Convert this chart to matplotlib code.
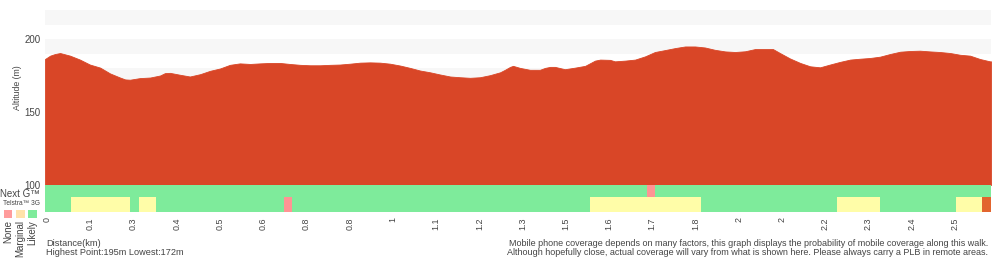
import numpy as np
import matplotlib
matplotlib.use("Agg")
import matplotlib.pyplot as plt
from matplotlib.patches import Rectangle

plt.rcParams['font.family'] = ['Liberation Sans', 'DejaVu Sans']

# ---------------- data ----------------
dist_km = [0.000, 0.014, 0.027, 0.041, 0.068, 0.095, 0.122, 0.150, 0.177, 0.204,
           0.218, 0.231, 0.258, 0.286, 0.313, 0.326, 0.340, 0.367, 0.394, 0.422,
           0.449, 0.476, 0.503, 0.530, 0.558, 0.585, 0.612, 0.639, 0.666, 0.694,
           0.721, 0.748, 0.775, 0.802, 0.830, 0.857, 0.884, 0.911, 0.938, 0.966,
           0.993, 1.020, 1.047, 1.074, 1.102, 1.129, 1.156, 1.183, 1.210, 1.238,
           1.251, 1.265, 1.273, 1.292, 1.319, 1.346, 1.360, 1.374, 1.387, 1.414,
           1.442, 1.469, 1.496, 1.510, 1.537, 1.550, 1.578, 1.605, 1.632, 1.659,
           1.686, 1.714, 1.741, 1.768, 1.795, 1.822, 1.850, 1.877, 1.904, 1.931,
           1.958, 1.980, 1.999, 2.026, 2.054, 2.081, 2.108, 2.135, 2.162, 2.190,
           2.217, 2.244, 2.271, 2.298, 2.326, 2.353, 2.380, 2.407, 2.434, 2.462,
           2.489, 2.516, 2.543, 2.570, 2.573]
altitude_m = [186.4, 188.7, 189.8, 190.5, 188.7, 186.0, 182.6, 180.5, 176.5, 173.7,
              172.4, 172.2, 173.3, 173.7, 175.1, 176.7, 176.9, 175.6, 174.4, 176.0,
              178.3, 179.9, 182.4, 183.4, 183.0, 183.4, 183.7, 183.7, 183.0, 182.4,
              182.1, 182.1, 182.4, 182.6, 183.2, 183.9, 184.1, 183.9, 183.2, 181.9,
              180.3, 178.5, 177.3, 175.8, 174.4, 173.9, 173.5, 173.9, 175.3, 177.3,
              179.0, 181.0, 181.7, 180.3, 179.0, 179.0, 180.3, 181.0, 181.0, 179.4,
              180.5, 181.7, 185.3, 186.0, 185.8, 184.8, 185.3, 186.0, 188.2, 191.2,
              192.5, 193.9, 195.0, 195.0, 194.3, 192.7, 191.6, 191.2, 191.7, 193.2,
              193.2, 193.2, 190.5, 186.8, 183.7, 181.4, 180.7, 182.6, 184.4, 186.0,
              186.6, 187.1, 188.0, 189.8, 191.4, 191.9, 192.1, 191.6, 191.2, 190.5,
              189.3, 188.7, 186.4, 184.8, 184.8]

x_tick_labels = ['0', '0.1', '0.3', '0.4', '0.5', '0.6', '0.8', '0.8', '1', '1.1',
                 '1.2', '1.3', '1.5', '1.6', '1.7', '1.8', '2', '2', '2.2', '2.3',
                 '2.4', '2.5']
y_ticks = [100, 150, 200]

networks = ['Next G\u2122', 'Telstra\u2122 3G']
# coverage segments that differ from the "Likely" background: (start km, end km, status)
nextg_segments = [(1.637, 1.659, 'None')]
telstra_segments = [(0.071, 0.231, 'Marginal'), (0.256, 0.302, 'Marginal'),
                    (0.650, 0.672, 'None'), (1.482, 1.784, 'Marginal'),
                    (2.154, 2.271, 'Marginal'), (2.479, 2.549, 'Marginal'),
                    (2.549, 2.573, 'Unknown')]
legend_labels = ['None', 'Marginal', 'Likely']

highest, lowest = 195, 172

# ---------------- style ----------------
RED = '#D94627'
BAND = '#F7F7F7'
STATUS_COL = {'None': '#FF9494', 'Marginal': '#FFFDA8', 'Likely': '#7EEB9B',
              'Unknown': '#E2652E'}
LEGEND_COL = ['#FF9C9C', '#FFE2AA', '#7EEB9B']
TXT = '#444444'

W, H = 1000, 260
fig = plt.figure(figsize=(W / 100, H / 100), dpi=100)

def fx(px):
    return px / W

def fy(py):
    return 1 - py / H

D_TOTAL = dist_km[-1]
L, R = 45, 991

# elevation axes
ax = fig.add_axes([fx(L), fy(185), fx(R - L), (185 - 10) / H])
ax.set_xlim(0, D_TOTAL)
ax.set_ylim(100, 220)
for b in range(110, 220, 20):
    ax.axhspan(b, b + 10, color=BAND, lw=0, zorder=0)
ax.fill_between(dist_km, 100, altitude_m, color=RED, lw=0.6, edgecolor=RED, zorder=2)
ax.set_yticks(y_ticks)
ax.set_yticklabels([str(v) for v in y_ticks], fontsize=7, color=TXT)
ax.tick_params(axis='y', length=0, pad=3)
ax.set_xticks([])
for s in ax.spines.values():
    s.set_visible(False)
ax.patch.set_alpha(0)

# coverage axes
cax = fig.add_axes([fx(L), fy(211.5), fx(R - L), 26.5 / H])
cax.set_xlim(0, D_TOTAL)
cax.set_ylim(26.5, 0)
rows = [(0, 12), (12, 14.5)]
for (y0, h), segs in zip(rows, [nextg_segments, telstra_segments]):
    cax.broken_barh([(0, D_TOTAL)], (y0, h), facecolors=STATUS_COL['Likely'], lw=0)
    for a, b, st in segs:
        cax.broken_barh([(a, b - a)], (y0, h), facecolors=STATUS_COL[st], lw=0)
tick_step = 0.1176
tick_pos = 0.0054 + tick_step * np.arange(len(x_tick_labels))
cax.set_xticks(tick_pos)
cax.set_xticklabels(x_tick_labels, rotation=90, fontsize=6.4, color=TXT)
cax.tick_params(axis='x', length=0, pad=4)
cax.set_yticks([])
for s in cax.spines.values():
    s.set_visible(False)

# y label
fig.text(fx(17), fy(88), 'Altitude (m)', rotation=90, ha='center', va='center',
         fontsize=6.3, color=TXT)

# legend on the left
fig.text(fx(0), fy(194), networks[0], ha='left', va='center', fontsize=7, color=TXT)
fig.text(fx(3), fy(203.5), networks[1], ha='left', va='center', fontsize=4.8, color=TXT)
for i, (lab, col) in enumerate(zip(legend_labels, LEGEND_COL)):
    x0 = 3.7 + i * 12.3
    fig.patches.append(Rectangle((fx(x0), fy(217.5)), 8.5 / W, 7.5 / H,
                                 transform=fig.transFigure, facecolor=col,
                                 edgecolor='none', figure=fig))
    fig.text(fx(x0 + 4.2), fy(220), lab, rotation=90, ha='center', va='top',
             fontsize=7, color=TXT)

# bottom texts
fig.text(fx(46), fy(243), 'Distance(km)', ha='left', va='center', fontsize=6.7, color=TXT)
fig.text(fx(46), fy(252.5), f'Highest Point:{highest}m Lowest:{lowest}m',
         ha='left', va='center', fontsize=6.6, color=TXT)
fig.text(fx(988), fy(243),
         'Mobile phone coverage depends on many factors, this graph displays the '
         'probability of mobile coverage along this walk.',
         ha='right', va='center', fontsize=6.45, color=TXT)
fig.text(fx(988), fy(252.5),
         'Although hopefully close, actual coverage will vary from what is shown here. '
         'Please always carry a PLB in remote areas.',
         ha='right', va='center', fontsize=6.45, color=TXT)

fig.savefig('out.png', dpi=100, facecolor='white')
